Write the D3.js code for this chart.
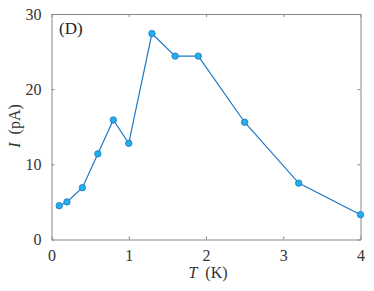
<!DOCTYPE html>
<html>
<head>
<meta charset="utf-8">
<script src="https://cdn.jsdelivr.net/npm/d3@7"></script>
<style>
  body { margin: 0; background: #fff; }
</style>
</head>
<body>
<svg width="374" height="291"></svg>
<script>
// measured values, T in K and I in pA
const temps = [0.1, 0.2, 0.4, 0.6, 0.8, 1.0, 1.3, 1.6, 1.9, 2.5, 3.2, 4.0];
const currents = [4.5, 5.0, 6.9, 11.4, 15.9, 12.8, 27.4, 24.4, 24.4, 15.6, 7.5, 3.3];
const xTicks = [0, 1, 2, 3, 4];
const yTicks = [0, 10, 20, 30];

const serif = "'Liberation Serif'";
const svg = d3.select("svg");
const plotLeft = 51.5, plotRight = 360.5, plotTop = 14, plotBottom = 239.5;

const x = d3.scaleLinear().domain([0, 4]).range([plotLeft, plotRight]);
const y = d3.scaleLinear().domain([0, 30]).range([plotBottom, plotTop]);

// axes on all four sides, ticks pointing inward
const axisColor = "#888";
const fix = g => {
    g.attr("font-family", null);
    g.select(".domain").attr("stroke", axisColor);
    g.selectAll(".tick line").attr("stroke", axisColor);
    g.selectAll("text").style("font-size", "16px").attr("fill", "#333")
        .style("font-family", serif);
};
const fmt = d3.format("d");

svg.append("g").attr("transform", "translate(0," + plotBottom + ")")
    .call(d3.axisBottom(x).tickValues(xTicks).tickFormat(fmt).tickSize(-3).tickPadding(10).tickSizeOuter(0))
    .call(fix);
svg.append("g").attr("transform", "translate(0," + plotTop + ")")
    .call(d3.axisTop(x).tickValues(xTicks).tickSize(-3).tickFormat("").tickSizeOuter(0))
    .call(fix);
svg.append("g").attr("transform", "translate(" + plotLeft + ",0)")
    .call(d3.axisLeft(y).tickValues(yTicks).tickFormat(fmt).tickSize(-3).tickPadding(10).tickSizeOuter(0))
    .call(fix);
svg.append("g").attr("transform", "translate(" + plotRight + ",0)")
    .call(d3.axisRight(y).tickValues(yTicks).tickSize(-3).tickFormat("").tickSizeOuter(0))
    .call(fix);

const data = temps.map((t, i) => ({ t: t, v: currents[i] }));

svg.append("path")
    .datum(data)
    .attr("fill", "none")
    .attr("stroke", "#1f77c4")
    .attr("stroke-width", 1.2)
    .attr("d", d3.line().x(d => x(d.t)).y(d => y(d.v)));

svg.selectAll(".pt")
    .data(data)
    .enter().append("circle")
    .attr("class", "pt")
    .attr("cx", d => x(d.t))
    .attr("cy", d => y(d.v))
    .attr("r", 3.2)
    .attr("fill", "#21b0ee")
    .attr("stroke", "#1a74c2")
    .attr("stroke-width", 0.8);

// panel tag
svg.append("text").attr("x", 59).attr("y", 34)
    .style("font-family", serif).style("font-size", "17px").attr("fill", "#222").text("(D)");

// axis labels
const xl = svg.append("text").attr("x", 208).attr("y", 278)
    .attr("text-anchor", "middle").attr("fill", "#333")
    .style("font-family", serif).style("font-size", "16px");
xl.append("tspan").style("font-style", "italic").text("T");
xl.append("tspan").text("\u00a0\u00a0(K)");

const yl = svg.append("text")
    .attr("transform", "translate(20,126) rotate(-90)")
    .attr("text-anchor", "middle").attr("fill", "#333")
    .style("font-family", serif).style("font-size", "16px");
yl.append("tspan").style("font-style", "italic").text("I");
yl.append("tspan").text("\u00a0\u00a0(pA)");
</script>
</body>
</html>
